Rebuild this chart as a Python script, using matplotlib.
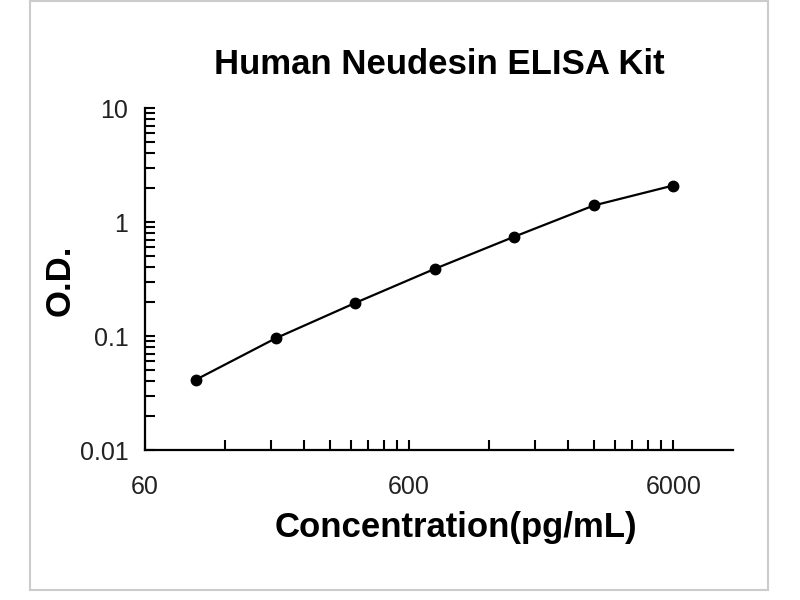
import numpy as np
import matplotlib
matplotlib.use("Agg")
import matplotlib.pyplot as plt
from matplotlib.ticker import FixedLocator, NullFormatter
from matplotlib.patches import Rectangle

concentration = [93.75, 187.5, 375, 750, 1500, 3000, 6000]
od = [0.0415, 0.0955, 0.195, 0.388, 0.743, 1.396, 2.09]

x_major = [60, 600, 6000]
x_major_labels = ["60", "600", "6000"]
y_major = [0.01, 0.1, 1, 10]
y_major_labels = ["0.01", "0.1", "1", "10"]

plt.rcParams['font.family'] = ['Liberation Sans', 'DejaVu Sans']

W, H = 800, 600
fig = plt.figure(figsize=(8, 6), dpi=100)
ax = fig.add_axes([145 / W, 1 - 450 / H, 588 / W, 342 / H])

ax.plot(concentration, od, color="black", linewidth=1.6, marker="o", markersize=7.5)

ax.set_xscale("log")
ax.set_yscale("log")
ax.set_xlim(60, 10100)
ax.set_ylim(0.01, 10)

# excel style log ticks starting at 60
x_minor = [m * d for d in (60, 600) for m in range(2, 10)]
y_minor = [m * d for d in (0.01, 0.1, 1) for m in range(2, 10)]
ax.xaxis.set_major_locator(FixedLocator(x_major))
ax.xaxis.set_minor_locator(FixedLocator(x_minor))
ax.yaxis.set_major_locator(FixedLocator(y_major))
ax.yaxis.set_minor_locator(FixedLocator(y_minor))
ax.set_xticklabels(x_major_labels)
ax.set_yticklabels(y_major_labels)
ax.xaxis.set_minor_formatter(NullFormatter())
ax.yaxis.set_minor_formatter(NullFormatter())

ax.tick_params(axis="both", which="both", direction="in", width=1.5, length=7,
               labelsize=18, labelcolor="#222222")
ax.tick_params(axis="x", which="both", pad=18)
ax.tick_params(axis="y", which="both", pad=12)

for side in ("top", "right"):
    ax.spines[side].set_visible(False)
for side in ("left", "bottom"):
    ax.spines[side].set_linewidth(1.6)

fig.text(439 / W, 1 - 74 / H, "Human Neudesin ELISA Kit", fontsize=25,
         fontweight="bold", ha="center", va="baseline")
fig.text(456 / W, 1 - 537 / H, "Concentration(pg/mL)", fontsize=25,
         fontweight="bold", ha="center", va="baseline")
fig.text(60 / W, 1 - 280 / H, "O.D.", fontsize=25, fontweight="bold",
         rotation=90, ha="center", va="center")

fig.patches.append(Rectangle((30 / W, 10 / H), 738 / W, 589 / H,
                             transform=fig.transFigure, fill=False,
                             edgecolor="#cccccc", linewidth=1.5))

fig.savefig("out.png", dpi=100)
